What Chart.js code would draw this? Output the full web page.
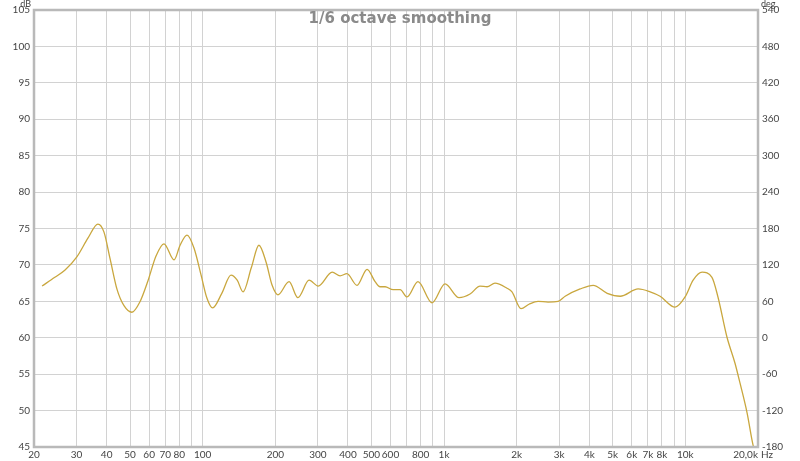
<!DOCTYPE html>
<html>
<head>
<meta charset="utf-8">
<script src="https://cdn.jsdelivr.net/npm/chart.js@4.4.1/dist/chart.umd.min.js"></script>
<style>
  html, body { margin: 0; padding: 0; background: #fff; }
  #wrap { width: 800px; height: 461px; position: relative; }
</style>
</head>
<body>
<div id="wrap"><canvas id="frChart"></canvas></div>
<script>
// frequency points (Hz) and SPL (dB)
const freqs = [21.6, 24.4, 26.9, 30.1, 33.5, 36.8, 39.0, 41.3, 44.2, 47.2, 50.9, 54.9, 59.3, 64.0, 69.1,
  76.1, 80.6, 86.1, 92.1, 98.5, 104, 110, 120, 131, 139, 147, 159, 171, 183, 194, 205, 228, 248, 276,
  301, 344, 371, 396, 436, 480, 518, 543, 570, 615, 658, 703, 780, 892, 1010, 1154, 1282, 1410, 1508,
  1626, 1824, 1913, 2085, 2250, 2453, 2698, 2970, 3176, 3665, 4150, 4744, 5371, 6375, 7147, 7858,
  9066, 9975, 10770, 11730, 12890, 13650, 14870, 16060, 16840, 18020, 19070, 19600];
const splDb = [67.1, 68.3, 69.3, 71.1, 73.7, 75.6, 74.5, 70.9, 66.6, 64.4, 63.5, 64.9, 67.8, 71.2, 72.9,
  70.7, 72.7, 74.1, 72.3, 68.6, 65.5, 64.1, 66.1, 68.6, 67.9, 66.3, 69.6, 72.7, 70.4, 67.2, 65.9, 67.7, 65.5, 67.9,
  67.1, 69.0, 68.5, 68.8, 67.2, 69.4, 67.7, 67.0, 67.0, 66.6, 66.6, 65.6, 67.7, 64.8, 67.4, 65.5, 66.0, 67.1, 67.0,
  67.5, 66.8, 66.3, 64.0, 64.6, 65.0, 64.9, 65.0, 65.7, 66.7, 67.2, 66.1, 65.7, 66.7, 66.3, 65.7,
  64.2, 65.6, 67.9, 69.0, 68.3, 65.6, 60.1, 56.5, 53.8, 49.7, 45.3, 44.0];

// x grid lines and which of them get a label
const gridFreqs = [20, 30, 40, 50, 60, 70, 80, 90, 100, 200, 300, 400, 500, 600, 700, 800, 900,
  1000, 2000, 3000, 4000, 5000, 6000, 7000, 8000, 9000, 10000, 20000];
const labelFreqs = [20, 30, 40, 50, 60, 70, 80, 100, 200, 300, 400, 500, 600, 800,
  1000, 2000, 3000, 4000, 5000, 6000, 7000, 8000, 10000];
const labelText = ['20', '30', '40', '50', '60', '70', '80', '100', '200', '300', '400', '500', '600', '800',
  '1k', '2k', '3k', '4k', '5k', '6k', '7k', '8k', '10k'];
const lastLabel = '20,0k';   // sits flush against the right edge, followed by the unit

const titleText = '1/6 octave smoothing';
const tickFont = { family: 'Lato, "DejaVu Sans", sans-serif', size: 10 };
const tickColor = '#444';

// frame, title, last x label and unit labels
const decorPlugin = {
  id: 'decor',
  afterDraw(chart) {
    const { ctx, chartArea: a } = chart;
    ctx.save();
    ctx.strokeStyle = '#b9b9b9';
    ctx.lineWidth = 2.5;
    ctx.strokeRect(a.left, a.top, a.right - a.left, a.bottom - a.top);

    ctx.fillStyle = '#8a8a8a';
    ctx.font = 'bold 15px "DejaVu Sans", sans-serif';
    ctx.textAlign = 'center';
    ctx.textBaseline = 'middle';
    ctx.fillText(titleText, 400, 19);

    ctx.fillStyle = tickColor;
    ctx.font = '9px Lato, "DejaVu Sans", sans-serif';
    ctx.textBaseline = 'top';
    ctx.textAlign = 'right';
    ctx.fillText('dB', 31, 0);
    ctx.textAlign = 'left';
    ctx.fillText('deg', 761, 0);

    ctx.font = '10px Lato, "DejaVu Sans", sans-serif';
    ctx.textBaseline = 'middle';
    const ly = a.bottom + 8;
    ctx.textAlign = 'right';
    ctx.fillText(lastLabel, a.right, ly);
    ctx.textAlign = 'left';
    ctx.fillText('Hz', a.right + 3, ly);
    ctx.restore();
  }
};

new Chart(document.getElementById('frChart'), {
  type: 'line',
  data: {
    datasets: [{
      data: freqs.map((f, i) => ({ x: f, y: splDb[i] })),
      borderColor: '#c9a73e',
      borderWidth: 1.3,
      pointRadius: 0,
      cubicInterpolationMode: 'monotone',
      yAxisID: 'y'
    }]
  },
  options: {
    responsive: true,
    maintainAspectRatio: false,
    animation: false,
    layout: { padding: { top: 10, left: 0, right: 0, bottom: 0 } },
    plugins: { legend: { display: false }, tooltip: { enabled: false } },
    scales: {
      x: {
        type: 'logarithmic',
        min: 20,
        max: 20000,
        afterBuildTicks: scale => { scale.ticks = gridFreqs.map(v => ({ value: v })); },
        afterFit: scale => { scale.height = 14; },
        grid: { color: '#d2d2d2', drawTicks: false },
        border: { display: false },
        ticks: {
          autoSkip: false,
          maxRotation: 0,
          padding: 2,
          font: tickFont,
          color: tickColor,
          callback: value => {
            const i = labelFreqs.indexOf(value);
            return i >= 0 ? labelText[i] : '';
          }
        }
      },
      y: {
        position: 'left',
        min: 45,
        max: 105,
        afterFit: scale => { scale.width = 34; },
        grid: { color: '#d2d2d2', drawTicks: false },
        border: { display: false },
        ticks: { stepSize: 5, padding: 4, font: tickFont, color: tickColor }
      },
      y1: {
        position: 'right',
        min: -180,
        max: 540,
        afterFit: scale => { scale.width = 42; },
        grid: { display: false, drawTicks: false },
        border: { display: false },
        ticks: { stepSize: 60, padding: 4, font: tickFont, color: tickColor }
      }
    }
  },
  plugins: [decorPlugin]
});
</script>
</body>
</html>
